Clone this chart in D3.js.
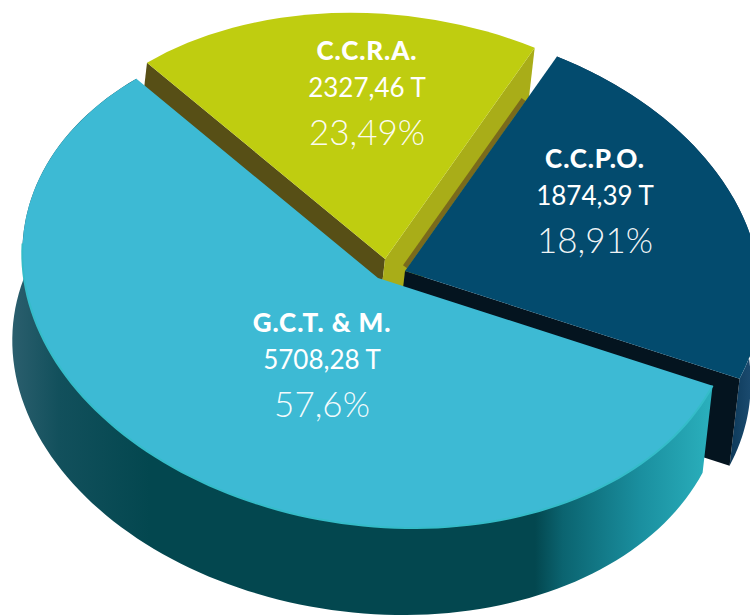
<!DOCTYPE html>
<html>
<head>
<meta charset="utf-8">
<script src="https://cdnjs.cloudflare.com/ajax/libs/d3/7.8.5/d3.min.js"></script>
<style>
  html, body { margin: 0; padding: 0; background: #fff; overflow: hidden; }
  text { fill: #fff; text-anchor: middle; font-family: "Lato", "Noto Sans", sans-serif; }
</style>
</head>
<body>
<div id="chart"></div>
<script>
// printed labels, as they read in the picture
var names = ["G.C.T. & M.", "C.C.R.A.", "C.C.P.O."];
var tonnes = ["5708,28 T", "2327,46 T", "1874,39 T"];
var percents = ["57,6%", "23,49%", "18,91%"];

// share of the circle each slice takes up in the picture: the yellow and blue
// slices are drawn with each other's printed percentage, so they are swapped here
var drawnShare = [57.6, 18.91, 23.49];

var width = 750, height = 615;

// ellipse of the top face
var rx = 354, ry = 250, skew = 35;
var depth = {x: -10, y: 87};

// slice layout, same order as the arrays above
var layout = [
    {cx: 378, cy: 278, r: 1, top: "#3dbad4"},
    {cx: 385, cy: 259, r: 0.985, top: "#bfcd10", cut: "#a9ad18", cutLeft: "#574f16"},
    {cx: 405, cy: 271, r: 1, top: "#034b6e", cut: "#04141f"}
];
var labelPos = [[322, 332], [367, 60], [595, 168]];

var svg = d3.select("#chart").append("svg")
    .attr("width", width)
    .attr("height", height);

var defs = svg.append("defs");

var bigWall = defs.append("linearGradient").attr("id", "bigWall")
    .attr("gradientUnits", "userSpaceOnUse")
    .attr("x1", 10).attr("x2", 710).attr("y1", 0).attr("y2", 0);
bigWall.append("stop").attr("offset", "0").attr("stop-color", "#2c5f6e");
bigWall.append("stop").attr("offset", "0.07").attr("stop-color", "#12505c");
bigWall.append("stop").attr("offset", "0.2").attr("stop-color", "#03474f");
bigWall.append("stop").attr("offset", "0.75").attr("stop-color", "#03474f");
bigWall.append("stop").attr("offset", "0.79").attr("stop-color", "#0b6470");
bigWall.append("stop").attr("offset", "0.9").attr("stop-color", "#1a8f9f");
bigWall.append("stop").attr("offset", "1").attr("stop-color", "#2aafbc");

var blueWall = defs.append("linearGradient").attr("id", "blueWall")
    .attr("gradientUnits", "userSpaceOnUse")
    .attr("x1", 725).attr("x2", 750).attr("y1", 0).attr("y2", 0);
blueWall.append("stop").attr("offset", "0").attr("stop-color", "#0a3554");
blueWall.append("stop").attr("offset", "1").attr("stop-color", "#1a4a6e");

var pie = d3.pie().sort(null)
    .startAngle(115.5 * Math.PI / 180)
    .endAngle((115.5 + 360) * Math.PI / 180);
var arcs = pie(drawnShare);

// arc -> screen, same mapping as the transform put on the top faces
function project(a, i, k) {
    var p = layout[i], r = p.r * (k === undefined ? 1 : k);
    var u = r * Math.sin(a), v = -r * Math.cos(a);
    return [p.cx + rx * u + skew * v, p.cy + ry * v];
}

var line = d3.line();

function sweep(d, i) {
    return d3.range(0, 121).map(function(t) {
        return project(d.startAngle + (d.endAngle - d.startAngle) * t / 120, i);
    });
}

function lower(pts) {
    return pts.map(function(p) { return [p[0] + depth.x, p[1] + depth.y]; });
}

// wall below a radial cut edge
function cutWall(i, angle, fill) {
    var c = [layout[i].cx, layout[i].cy];
    var e = project(angle, i);
    var pts = [c, e];
    svg.append("path")
        .attr("d", line(pts.concat(lower(pts).reverse())) + "Z")
        .attr("fill", fill);
}

function outerWall(i, fill) {
    var pts = sweep(arcs[i], i);
    svg.append("path")
        .attr("d", line(pts.concat(lower(pts).reverse())) + "Z")
        .attr("fill", fill);
}

var arc = d3.arc().innerRadius(0).outerRadius(100);

function topFace(i) {
    var p = layout[i];
    svg.append("path")
        .attr("d", arc(arcs[i]))
        .attr("fill", p.top)
        .attr("transform", "matrix(" + [rx * p.r / 100, 0, skew * p.r / 100, ry * p.r / 100, p.cx, p.cy].join(",") + ")");
}

// back to front: yellow, dark blue, big slice
cutWall(1, arcs[1].startAngle, layout[1].cutLeft);
cutWall(1, arcs[1].endAngle, layout[1].cut);
topFace(1);

// brown shadow where the blue slice sits against the yellow wall
var sh0 = project(arcs[2].startAngle, 2, 0.02), sh1 = project(arcs[2].startAngle, 2, 0.8);
svg.append("line")
    .attr("x1", sh0[0] - 3).attr("y1", sh0[1])
    .attr("x2", sh1[0] - 3).attr("y2", sh1[1])
    .attr("stroke", "#7a6a1c")
    .attr("stroke-width", 5);

outerWall(2, "url(#blueWall)");
cutWall(2, arcs[2].endAngle, layout[2].cut);
topFace(2);

outerWall(0, "url(#bigWall)");
topFace(0);

// light rim on the front of the big slice
svg.append("path")
    .attr("d", line(sweep(arcs[0], 0).slice(0, 95)))
    .attr("fill", "none")
    .attr("stroke", "#35bcc9")
    .attr("stroke-width", 2);

// labels
var labels = svg.selectAll("g.label")
    .data(names)
    .enter()
    .append("g")
    .attr("class", "label")
    .attr("transform", function(d, i) { return "translate(" + labelPos[i] + ")"; });

labels.append("text")
    .attr("font-size", 26)
    .attr("font-weight", 900)
    .attr("letter-spacing", 0.9)
    .text(function(d) { return d; });

labels.append("text")
    .attr("y", 37)
    .attr("font-size", 26)
    .attr("font-weight", 400)
    .text(function(d, i) { return tonnes[i]; });

labels.append("text")
    .attr("y", 85)
    .attr("font-size", 35)
    .attr("font-weight", 300)
    .attr("fill-opacity", 0.95)
    .text(function(d, i) { return percents[i]; });
</script>
</body>
</html>
